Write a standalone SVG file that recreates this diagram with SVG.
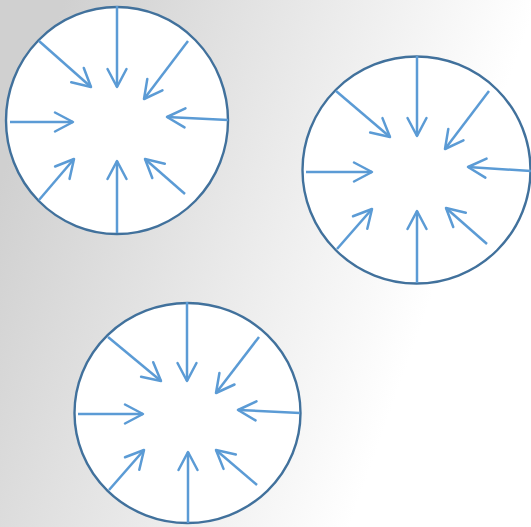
<svg xmlns="http://www.w3.org/2000/svg" width="531" height="527" viewBox="0 0 531 527">
<defs>
<linearGradient id="bg" gradientUnits="userSpaceOnUse" x1="0" y1="180" x2="420" y2="330">
<stop offset="0" stop-color="#d0d0d0"/>
<stop offset="1" stop-color="#ffffff"/>
</linearGradient>
<marker id="ah" markerUnits="userSpaceOnUse" viewBox="-21 -12 24 24" refX="0" refY="0" markerWidth="24" markerHeight="24" orient="auto" overflow="visible">
<path d="M-18,-9.5 L0,0 L-18,9.5" fill="none" stroke="#5B9BD5" stroke-width="2.5" stroke-linecap="round" stroke-linejoin="round"/>
</marker>
</defs>
<style>
.c{fill:#ffffff;stroke:#41719C;stroke-width:2.4}
.a{stroke:#5B9BD5;stroke-width:2.5;fill:none;marker-end:url(#ah)}
</style>
<rect x="0" y="0" width="531" height="527" fill="url(#bg)"/>
<g id="circle1"><ellipse class="c" cx="117" cy="120.5" rx="111" ry="113.5"/></g>
<g id="circle2"><ellipse class="c" cx="416.5" cy="170" rx="114" ry="113.5"/></g>
<g id="circle3"><ellipse class="c" cx="187.5" cy="413" rx="113" ry="110"/></g>
<g id="connectors">
<line class="a" x1="117" y1="6" x2="117" y2="87"/>
<line class="a" x1="39" y1="41" x2="91" y2="87"/>
<line class="a" x1="188" y1="41" x2="144" y2="99"/>
<line class="a" x1="10" y1="122" x2="73" y2="122"/>
<line class="a" x1="228" y1="120" x2="167" y2="117"/>
<line class="a" x1="39" y1="200" x2="74" y2="159"/>
<line class="a" x1="117" y1="233" x2="117" y2="161"/>
<line class="a" x1="185" y1="194" x2="145" y2="159"/>

<line class="a" x1="417" y1="56" x2="417" y2="136"/>
<line class="a" x1="336" y1="91" x2="390" y2="137"/>
<line class="a" x1="489" y1="91" x2="445" y2="149"/>
<line class="a" x1="306" y1="172" x2="372" y2="172"/>
<line class="a" x1="531" y1="171" x2="468" y2="167"/>
<line class="a" x1="337" y1="249" x2="372" y2="209"/>
<line class="a" x1="417" y1="283" x2="417" y2="211"/>
<line class="a" x1="487" y1="244" x2="446" y2="208"/>

<line class="a" x1="187" y1="302" x2="187" y2="381"/>
<line class="a" x1="108" y1="337" x2="161" y2="381"/>
<line class="a" x1="259" y1="337" x2="216" y2="393"/>
<line class="a" x1="78" y1="414" x2="143" y2="414"/>
<line class="a" x1="300" y1="413" x2="238" y2="410"/>
<line class="a" x1="109" y1="490" x2="144" y2="450"/>
<line class="a" x1="188" y1="523" x2="188" y2="452"/>
<line class="a" x1="257" y1="485" x2="216" y2="450"/>
</g>
</svg>
